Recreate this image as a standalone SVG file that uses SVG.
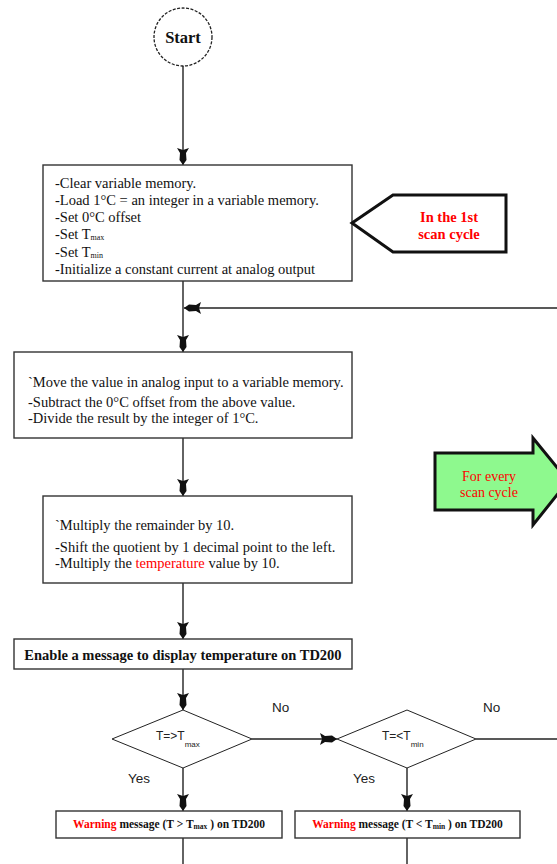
<svg xmlns="http://www.w3.org/2000/svg" width="557" height="864" viewBox="0 0 557 864">
<style>
.box{fill:#fff;stroke:#333;stroke-width:1.4}
.ln{fill:none;stroke:#222;stroke-width:1.4}
.ser{font-family:"Liberation Serif","Times New Roman",serif;fill:#111}
.t{font-size:14.5px}
.b{font-weight:bold}
.san{font-family:"Liberation Sans",Arial,sans-serif;fill:#222}
.red{fill:#f00}
</style>
<defs>
<marker id="ah" markerWidth="20" markerHeight="14" refX="18" refY="7" orient="auto" markerUnits="userSpaceOnUse" viewBox="0 0 20 14">
<path d="M18,7 L13,3.5 L6,4 L1,1 L3,7 L1,13 L6,10 L13,10.5 Z" fill="#111"/>
</marker>
</defs>
<g id="connectors">
<line class="ln" x1="183" y1="66" x2="183" y2="165" marker-end="url(#ah)"/>
<line class="ln" x1="183" y1="281" x2="183" y2="352" marker-end="url(#ah)"/>
<line class="ln" x1="557" y1="308" x2="184" y2="308" marker-end="url(#ah)"/>
<line class="ln" x1="183" y1="438" x2="183" y2="496" marker-end="url(#ah)"/>
<line class="ln" x1="183" y1="583" x2="183" y2="639" marker-end="url(#ah)"/>
<line class="ln" x1="183" y1="669" x2="183" y2="710" marker-end="url(#ah)"/>
<line class="ln" x1="252" y1="739" x2="337" y2="739" marker-end="url(#ah)"/>
<line class="ln" x1="476" y1="739" x2="557" y2="739"/>
<line class="ln" x1="183" y1="768" x2="183" y2="811" marker-end="url(#ah)"/>
<line class="ln" x1="407" y1="768" x2="407" y2="811" marker-end="url(#ah)"/>
<line class="ln" x1="183" y1="838" x2="183" y2="864"/>
<line class="ln" x1="407" y1="838" x2="407" y2="864"/>
</g>
<g id="start">
<circle cx="183" cy="37" r="29" fill="#fff" stroke="#222" stroke-width="1.3" stroke-dasharray="3,1.5"/>
<text class="ser b" x="183" y="43" font-size="16.5" text-anchor="middle">Start</text>
</g>
<g id="init">
<rect class="box" x="43" y="165" width="309" height="116"/>
<text class="ser t" x="55" y="188">-Clear variable memory.</text>
<text class="ser t" x="55" y="205">-Load 1°C = an integer in a variable memory.</text>
<text class="ser t" x="55" y="222">-Set 0°C offset</text>
<text class="ser t" x="55" y="239">-Set T<tspan font-size="8" dy="1">max</tspan></text>
<text class="ser t" x="55" y="257">-Set T<tspan font-size="8" dy="1">min</tspan></text>
<text class="ser t" x="55" y="274">-Initialize a constant current at analog output</text>
</g>
<g id="first-scan">
<polygon points="352,223 393,195 506,195 506,252 393,252" fill="#fff" stroke="#111" stroke-width="3"/>
<text class="ser b red" x="449" y="222" font-size="14.5" text-anchor="middle">In the 1st</text>
<text class="ser b red" x="449" y="239" font-size="14.5" text-anchor="middle">scan cycle</text>
</g>
<g id="convert">
<rect class="box" x="14" y="352" width="338" height="86"/>
<text class="ser t" x="28" y="387">`Move the value in analog input to a variable memory.</text>
<text class="ser t" x="28" y="407">-Subtract the 0°C offset from the above value.</text>
<text class="ser t" x="28" y="423">-Divide the result by the integer of 1°C.</text>
</g>
<g id="every-scan">
<polygon points="435,453 533,453 533,438 568,481 533,525 533,510 435,510" fill="#8ef98e" stroke="#111" stroke-width="3"/>
<text class="ser red" x="489" y="481" font-size="14" text-anchor="middle">For every</text>
<text class="ser red" x="489" y="497" font-size="14" text-anchor="middle">scan cycle</text>
</g>
<g id="scale">
<rect class="box" x="43" y="496" width="309" height="87"/>
<text class="ser t" x="55" y="530">`Multiply the remainder by 10.</text>
<text class="ser t" x="55" y="552">-Shift the quotient by 1 decimal point to the left.</text>
<text class="ser t" x="55" y="568">-Multiply the <tspan class="red">temperature</tspan> value by 10.</text>
</g>
<g id="display">
<rect class="box" x="14" y="639" width="338" height="30"/>
<text class="ser b" x="183" y="660" font-size="14.5" text-anchor="middle">Enable a message to display temperature on TD200</text>
</g>
<g id="check-max">
<polygon points="112,739 183,710 252,739 183,768" fill="#fff" stroke="#222" stroke-width="1"/>
<text class="san" x="156" y="740" font-size="12">T=&gt;T<tspan font-size="8" dy="7">max</tspan></text>
<text class="san" x="272" y="712" font-size="13.5">No</text>
<text class="san" x="128" y="783" font-size="13.5">Yes</text>
</g>
<g id="check-min">
<polygon points="337,739 407,710 476,739 407,768" fill="#fff" stroke="#222" stroke-width="1"/>
<text class="san" x="382" y="740" font-size="12">T=&lt;T<tspan font-size="8" dy="7">min</tspan></text>
<text class="san" x="483" y="712" font-size="13.5">No</text>
<text class="san" x="353" y="783" font-size="13.5">Yes</text>
</g>
<g id="warn-max">
<rect class="box" x="56" y="811" width="226" height="27"/>
<text class="ser b" x="169" y="828" font-size="11.5" text-anchor="middle"><tspan class="red">Warning</tspan> message (T &gt; T<tspan font-size="7.5" dy="1">max</tspan><tspan dy="-1"> ) on TD200</tspan></text>
</g>
<g id="warn-min">
<rect class="box" x="295" y="811" width="225" height="27"/>
<text class="ser b" x="407.5" y="828" font-size="11.5" text-anchor="middle"><tspan class="red">Warning</tspan> message (T &lt; T<tspan font-size="7.5" dy="1">min</tspan><tspan dy="-1"> ) on TD200</tspan></text>
</g>
</svg>
